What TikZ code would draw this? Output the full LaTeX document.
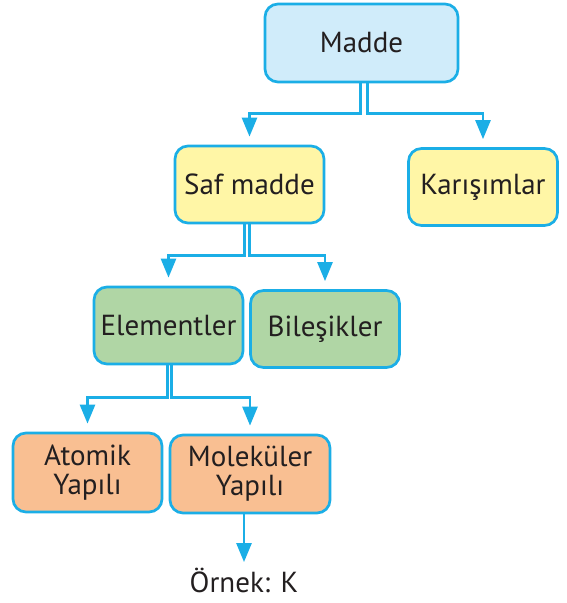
\documentclass[tikz,border=0pt]{standalone}
\usepackage{fontspec}
\setmainfont{PT Sans}
\usetikzlibrary{arrows.meta}

\definecolor{cyanline}{HTML}{1BAEE6}
\definecolor{inkgray}{HTML}{231F20}
\definecolor{maddefill}{HTML}{D0ECFA}
\definecolor{saffill}{HTML}{FFF6A6}
\definecolor{elemfill}{HTML}{B0D6A5}
\definecolor{yapifill}{HTML}{F9BF92}

\tikzset{
  kutu/.style={draw=cyanline, line width=2.7pt, rounded corners=13pt,
    minimum width=149pt, minimum height=77pt, align=center,
    text=inkgray, font=\fontsize{29}{33}\selectfont},
  bag/.style={cyanline, line width=2.6pt, -{Triangle[length=19pt,width=15pt]},
    shorten >=8pt}
}

\begin{document}
\begin{tikzpicture}[x=1pt,y=-1pt]
  \useasboundingbox (0,0) rectangle (566,603);
  % kutular
  \node[kutu, fill=maddefill, minimum width=193pt, minimum height=78pt] (madde) at (361.5,43) {Madde};
  \node[kutu, fill=saffill] (saf) at (249.5,184.5) {Saf madde};
  \node[kutu, fill=saffill] (karisim) at (483,187) {Karışımlar};
  \node[kutu, fill=elemfill] (element) at (168.5,325.5) {Elementler};
  \node[kutu, fill=elemfill] (bilesik) at (325,329) {Bileşikler};
  \node[kutu, fill=yapifill, minimum height=79pt] (atomik) at (87.5,472.5) {Atomik\\[-4pt]Yapılı};
  \node[kutu, fill=yapifill, minimum width=160pt, minimum height=78pt] (molekul) at (250,474) {Moleküler\\[-4pt]Yapılı};
  \node[text=inkgray, font=\fontsize{29}{33}\selectfont] (ornek) at (244,580) {Örnek: K};
  % baglantilar
  \draw[bag] ([xshift=-1pt]madde.south) -- ++(0,30) -| (saf.north);
  \draw[bag] ([xshift=6pt]madde.south) -- ++(0,30) -| (karisim.north);
  \draw[bag] ([xshift=-5pt]saf.south) -- ++(0,31) -| (element.north);
  \draw[bag] ([xshift=0pt]saf.south) -- ++(0,31) -| (bilesik.north);
  \draw[bag] ([xshift=-1pt]element.south) -- ++(0,32) -| (atomik.north);
  \draw[bag] ([xshift=3pt]element.south) -- ++(0,32) -| (molekul.north);
  \draw[bag, shorten >=2pt] ([xshift=-6pt]molekul.south) -- (ornek.north);
\end{tikzpicture}
\end{document}
